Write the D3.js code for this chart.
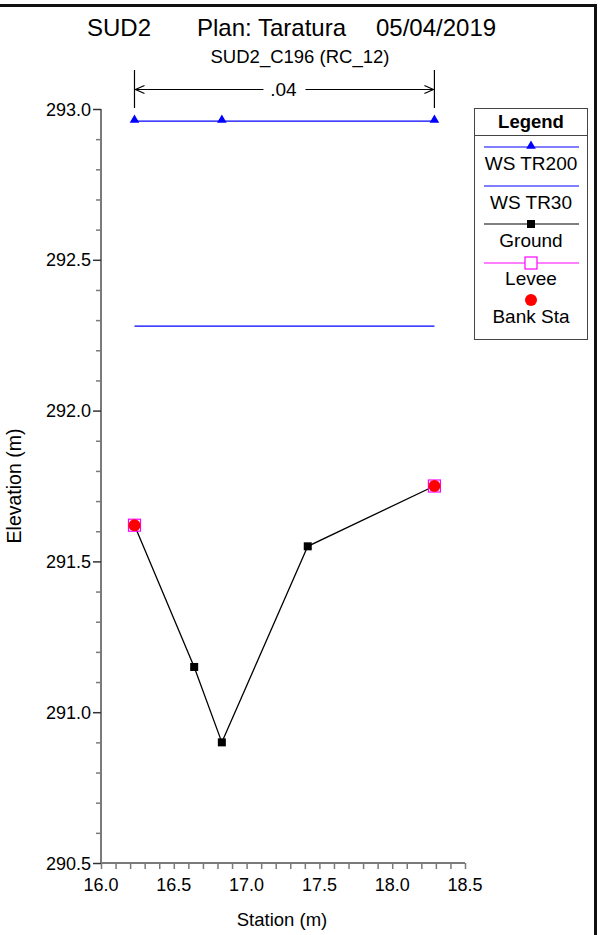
<!DOCTYPE html>
<html>
<head>
<meta charset="utf-8">
<script src="https://cdn.jsdelivr.net/npm/d3@7"></script>
<style>
  html, body { margin: 0; padding: 0; background: #fff; }
  svg { display: block; font-family: "Liberation Sans", Arial, sans-serif; }
</style>
</head>
<body>
<svg id="chart" width="600" height="935"></svg>
<script>
// Cross-section SUD2_C196 (RC_12)
const titleParts = ["SUD2", "Plan: Taratura", "05/04/2019"];
const subtitle = "SUD2_C196 (RC_12)";

// Ground survey points
const groundStation = [16.23, 16.64, 16.83, 17.42, 18.29];
const groundElev = [291.62, 291.15, 290.90, 291.55, 291.75];

// Bank stations and levees (left, right)
const bankStation = [16.23, 18.29];
const bankElev = [291.62, 291.75];
const leveeStation = [16.23, 18.29];
const leveeElev = [291.62, 291.75];

// Water surfaces
const wsTR200Station = [16.23, 16.83, 18.29];
const wsTR200Elev = [292.96, 292.96, 292.96];
const wsTR30Station = [16.23, 18.29];
const wsTR30Elev = [292.28, 292.28];

// Manning's n band
const manningFrom = [16.23];
const manningTo = [18.29];
const manningLabel = [".04"];

// Axes
const xDomain = [16.0, 18.5];
const yDomain = [290.5, 293.0];
const xTickValues = [16.0, 16.5, 17.0, 17.5, 18.0, 18.5];
const yTickValues = [290.5, 291.0, 291.5, 292.0, 292.5, 293.0];

const legendItems = ["WS TR200", "WS TR30", "Ground", "Levee", "Bank Sta"];

const svg = d3.select("#chart");
const x = d3.scaleLinear().domain(xDomain).range([101, 465]);
const y = d3.scaleLinear().domain(yDomain).range([863, 109]);

const axisColor = "#7a7a7a";

// outer frame (top and right edges)
svg.append("line").attr("x1", 0).attr("x2", 596).attr("y1", 5.5).attr("y2", 5.5)
  .attr("stroke", "#111").attr("stroke-width", 3);
svg.append("line").attr("x1", 595.5).attr("x2", 595.5).attr("y1", 4).attr("y2", 935)
  .attr("stroke", "#111").attr("stroke-width", 3);

// titles
const titleX = [87, 197, 376];
titleParts.forEach((t, i) => {
  svg.append("text").attr("x", titleX[i]).attr("y", 36).attr("font-size", 24).text(t);
});
svg.append("text").attr("x", 300).attr("y", 63).attr("text-anchor", "middle")
  .attr("font-size", 18.5).text(subtitle);

// minor ticks
const xMinor = d3.range(Math.round(xDomain[0] * 10), Math.round(xDomain[1] * 10) + 1).map(v => v / 10);
const yMinor = d3.range(Math.round(yDomain[0] * 10), Math.round(yDomain[1] * 10) + 1).map(v => v / 10);

// x axis
const xAxis = d3.axisBottom(x).tickValues(xMinor).tickSize(6).tickFormat("");
const gx = svg.append("g").attr("transform", "translate(0,863)").call(xAxis);
gx.select(".domain").attr("stroke", axisColor).attr("stroke-width", 2).attr("d", `M${x(xDomain[0])},0H${x(xDomain[1])}`);
gx.selectAll(".tick line").attr("stroke", axisColor).attr("stroke-width", 1.5);
gx.selectAll(".major").data(xTickValues).enter().append("text")
  .attr("x", d => x(d)).attr("y", 891).attr("text-anchor", "middle")
  .attr("font-size", 18).attr("fill", "#000").attr("transform", "translate(0,-863)")
  .text(d => d3.format(".1f")(d));

// y axis
const yAxis = d3.axisLeft(y).tickValues(yMinor).tickSize(5).tickFormat("");
const gy = svg.append("g").attr("transform", "translate(101,0)").call(yAxis);
gy.select(".domain").attr("stroke", axisColor).attr("stroke-width", 2).attr("d", `M0,${y(yDomain[0])}V${y(yDomain[1])}`);
gy.selectAll(".tick line").attr("stroke", axisColor).attr("stroke-width", 1.5);
gy.selectAll(".tick").filter(d => yTickValues.some(v => Math.abs(v - d) < 1e-6))
  .select("line").attr("x2", -8).attr("stroke", "#333");
gy.selectAll(".major").data(yTickValues).enter().append("text")
  .attr("x", -10).attr("y", d => y(d) + 6.5).attr("text-anchor", "end")
  .attr("font-size", 18).attr("fill", "#000")
  .text(d => d3.format(".1f")(d));

// axis titles
svg.append("text").attr("x", 282).attr("y", 926).attr("text-anchor", "middle")
  .attr("font-size", 18.5).text("Station (m)");
svg.append("text").attr("transform", `translate(21,${(y(yDomain[0]) + y(yDomain[1])) / 2}) rotate(-90)`)
  .attr("text-anchor", "middle").attr("font-size", 19.5).text("Elevation (m)");

// Manning's n bracket
manningFrom.forEach((f, i) => {
  const x0 = x(f), x1 = x(manningTo[i]);
  const yA = 89.5;
  const g = svg.append("g").attr("stroke", "#000").attr("fill", "none").attr("stroke-width", 1.2);
  g.append("line").attr("x1", x0).attr("x2", x0).attr("y1", 70).attr("y2", 108);
  g.append("line").attr("x1", x1).attr("x2", x1).attr("y1", 70).attr("y2", 108);
  const mid = (x0 + x1) / 2;
  svg.append("text").attr("x", mid - 1).attr("y", 96).attr("text-anchor", "middle")
    .attr("font-size", 19).text(manningLabel[i]);
  const half = 21;
  g.append("line").attr("x1", x0).attr("x2", mid - half).attr("y1", yA).attr("y2", yA);
  g.append("line").attr("x1", mid + half).attr("x2", x1).attr("y1", yA).attr("y2", yA);
  g.append("path").attr("d", `M${x0 + 10},${yA - 4}L${x0 + 1},${yA}L${x0 + 10},${yA + 4}`);
  g.append("path").attr("d", `M${x1 - 10},${yA - 4}L${x1 - 1},${yA}L${x1 - 10},${yA + 4}`);
});

const line = d3.line().x(d => x(d[0])).y(d => y(d[1]));
const tri = d3.symbol().type(d3.symbolTriangle).size(40);

// WS TR30
svg.append("path").datum(d3.zip(wsTR30Station, wsTR30Elev)).attr("d", line)
  .attr("fill", "none").attr("stroke", "#0000ff").attr("stroke-width", 1.2);

// WS TR200
const ws200 = d3.zip(wsTR200Station, wsTR200Elev);
svg.append("path").datum(ws200).attr("d", line)
  .attr("fill", "none").attr("stroke", "#0000ff").attr("stroke-width", 1.2);
svg.selectAll(".ws200m").data(ws200).enter().append("path")
  .attr("transform", d => `translate(${x(d[0])},${y(d[1]) - 1})`).attr("d", tri).attr("fill", "#0000ff");

// Ground
const gr = d3.zip(groundStation, groundElev);
svg.append("path").datum(gr).attr("d", line)
  .attr("fill", "none").attr("stroke", "#000").attr("stroke-width", 1.3);
svg.selectAll(".grm").data(gr).enter().append("rect")
  .attr("x", d => x(d[0]) - 4).attr("y", d => y(d[1]) - 4).attr("width", 8).attr("height", 8).attr("fill", "#000");

// Levee
svg.selectAll(".lev").data(d3.zip(leveeStation, leveeElev)).enter().append("rect")
  .attr("x", d => x(d[0]) - 6).attr("y", d => y(d[1]) - 6).attr("width", 12).attr("height", 12)
  .attr("fill", "none").attr("stroke", "#ff00ff").attr("stroke-width", 1.2);

// Bank stations
svg.selectAll(".bank").data(d3.zip(bankStation, bankElev)).enter().append("circle")
  .attr("cx", d => x(d[0])).attr("cy", d => y(d[1])).attr("r", 6).attr("fill", "#ff0000");

// Legend
const lg = svg.append("g");
const lx0 = 474.5, lx1 = 587.5, ly0 = 108.5, ly1 = 339.5;
lg.append("rect").attr("x", lx0).attr("y", ly0).attr("width", lx1 - lx0).attr("height", ly1 - ly0)
  .attr("fill", "#fff").attr("stroke", "#444").attr("stroke-width", 1);
lg.append("line").attr("x1", lx0).attr("x2", lx1).attr("y1", 135.5).attr("y2", 135.5).attr("stroke", "#444");
lg.append("text").attr("x", (lx0 + lx1) / 2).attr("y", 128).attr("text-anchor", "middle")
  .attr("font-size", 18.5).attr("font-weight", "bold").text("Legend");
const sx0 = 484, sx1 = 579, smid = 531;
const lineY = [147, 186, 224, 263, 300];
const textY = [170, 209, 247, 285, 323];
const lineCol = ["#0000ff", "#0000ff", "#000", "#ff00ff", null];
legendItems.forEach((name, i) => {
  if (lineCol[i]) {
    lg.append("line").attr("x1", sx0).attr("x2", sx1).attr("y1", lineY[i]).attr("y2", lineY[i])
      .attr("stroke", lineCol[i]).attr("stroke-width", 1.2);
  }
  if (i === 0) lg.append("path").attr("transform", `translate(${smid},${lineY[i] - 1})`).attr("d", tri).attr("fill", "#0000ff");
  if (i === 2) lg.append("rect").attr("x", smid - 4).attr("y", lineY[i] - 4).attr("width", 8).attr("height", 8).attr("fill", "#000");
  if (i === 3) lg.append("rect").attr("x", smid - 6).attr("y", lineY[i] - 6).attr("width", 12).attr("height", 12)
    .attr("fill", "#fff").attr("stroke", "#ff00ff").attr("stroke-width", 1.2);
  if (i === 4) lg.append("circle").attr("cx", smid).attr("cy", lineY[i]).attr("r", 6).attr("fill", "#ff0000");
  lg.append("text").attr("x", smid).attr("y", textY[i]).attr("text-anchor", "middle")
    .attr("font-size", 19).text(name);
});
</script>
</body>
</html>
